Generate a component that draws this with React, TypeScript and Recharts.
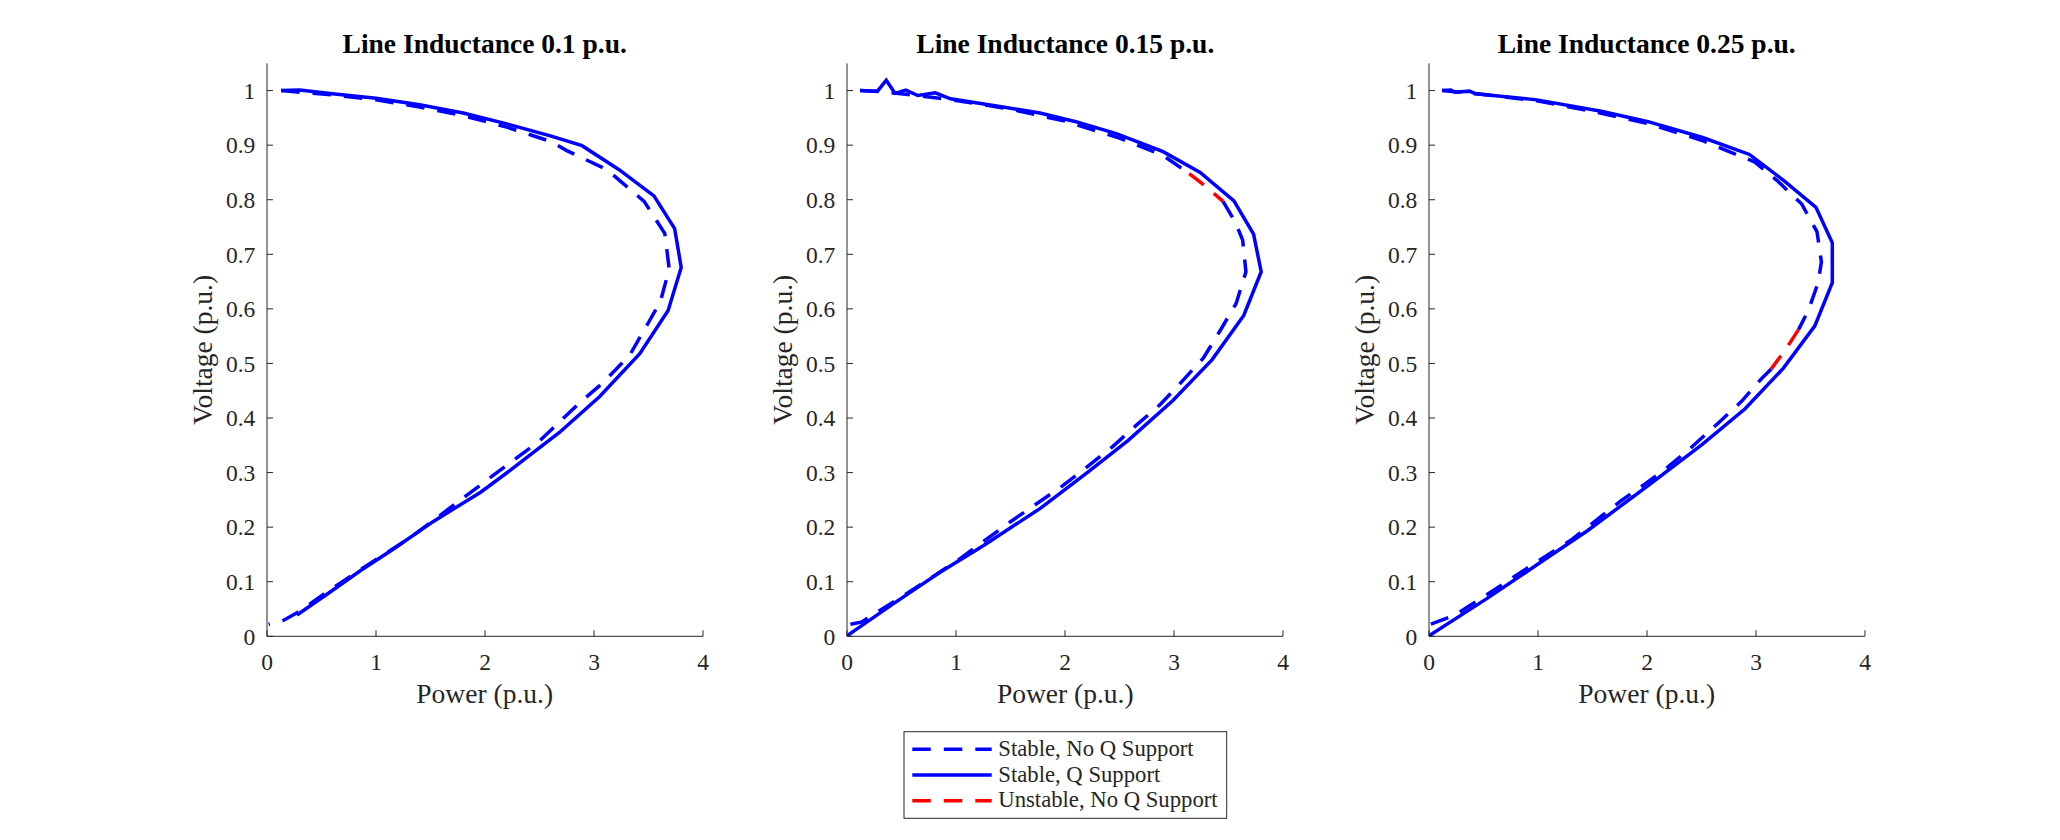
import { Line, LineChart, XAxis, YAxis } from 'recharts';

type Pt = { p: number; v: number };

const TITLES = ['Line Inductance 0.1 p.u.', 'Line Inductance 0.15 p.u.', 'Line Inductance 0.25 p.u.'];
const X_LABEL = 'Power (p.u.)';
const Y_LABEL = 'Voltage (p.u.)';
const X_TICKS = [0, 1, 2, 3, 4];
const Y_TICKS = [0, 0.1, 0.2, 0.3, 0.4, 0.5, 0.6, 0.7, 0.8, 0.9, 1];

// line inductance 0.1 p.u.
const L1_NOQ: Pt[] = [
  { p: 0.13, v: 1.0 }, { p: 0.6, v: 0.992 }, { p: 1.0, v: 0.983 }, { p: 1.4, v: 0.97 }, { p: 1.8, v: 0.954 },
  { p: 2.2, v: 0.933 }, { p: 2.6, v: 0.907 }, { p: 2.75, v: 0.89 }, { p: 3.12, v: 0.855 }, { p: 3.46, v: 0.797 },
  { p: 3.65, v: 0.738 }, { p: 3.69, v: 0.673 }, { p: 3.61, v: 0.614 }, { p: 3.5, v: 0.575 }, { p: 3.33, v: 0.516 },
  { p: 3.09, v: 0.466 }, { p: 2.87, v: 0.428 }, { p: 2.5, v: 0.358 }, { p: 2.23, v: 0.318 }, { p: 1.77, v: 0.249 },
  { p: 1.31, v: 0.18 }, { p: 0.856, v: 0.122 }, { p: 0.55, v: 0.081 }, { p: 0.275, v: 0.043 }, { p: 0.15, v: 0.029 },
  { p: 0.015, v: 0.022 },
];
const L1_Q: Pt[] = [
  { p: 0.13, v: 1.0 }, { p: 0.3, v: 1.001 }, { p: 0.6, v: 0.994 }, { p: 1.0, v: 0.986 }, { p: 1.4, v: 0.974 },
  { p: 1.8, v: 0.959 }, { p: 2.2, v: 0.939 }, { p: 2.6, v: 0.917 }, { p: 2.89, v: 0.899 }, { p: 3.23, v: 0.855 },
  { p: 3.55, v: 0.807 }, { p: 3.74, v: 0.747 }, { p: 3.8, v: 0.676 }, { p: 3.68, v: 0.597 }, { p: 3.42, v: 0.518 },
  { p: 3.05, v: 0.439 }, { p: 2.68, v: 0.373 }, { p: 2.23, v: 0.304 }, { p: 1.96, v: 0.264 }, { p: 1.53, v: 0.211 },
  { p: 1.16, v: 0.16 }, { p: 0.856, v: 0.12 }, { p: 0.55, v: 0.077 }, { p: 0.275, v: 0.039 },
];

// line inductance 0.15 p.u.
const L2_NOQ_UPPER: Pt[] = [
  { p: 0.12, v: 1.0 }, { p: 0.3, v: 0.998 }, { p: 0.6, v: 0.992 }, { p: 1.0, v: 0.982 }, { p: 1.5, v: 0.966 },
  { p: 2.0, v: 0.944 }, { p: 2.5, v: 0.913 }, { p: 2.9, v: 0.881 }, { p: 3.14, v: 0.848 },
];
const L2_UNSTABLE: Pt[] = [{ p: 3.14, v: 0.848 }, { p: 3.3, v: 0.823 }, { p: 3.45, v: 0.797 }];
const L2_NOQ_LOWER: Pt[] = [
  { p: 3.45, v: 0.797 }, { p: 3.56, v: 0.76 }, { p: 3.63, v: 0.726 }, { p: 3.66, v: 0.668 }, { p: 3.57, v: 0.61 },
  { p: 3.42, v: 0.559 }, { p: 3.27, v: 0.51 }, { p: 3.05, v: 0.462 }, { p: 2.87, v: 0.424 }, { p: 2.65, v: 0.386 },
  { p: 2.44, v: 0.348 }, { p: 2.2, v: 0.31 }, { p: 1.98, v: 0.276 }, { p: 1.5, v: 0.21 }, { p: 1.0, v: 0.137 },
  { p: 0.5, v: 0.072 }, { p: 0.13, v: 0.026 }, { p: 0, v: 0.021 },
];
const L2_Q: Pt[] = [
  { p: 0.12, v: 1.0 }, { p: 0.28, v: 0.999 }, { p: 0.36, v: 1.019 }, { p: 0.44, v: 0.995 }, { p: 0.54, v: 1.001 },
  { p: 0.65, v: 0.991 }, { p: 0.81, v: 0.996 }, { p: 0.95, v: 0.985 }, { p: 1.46, v: 0.969 }, { p: 1.77, v: 0.959 },
  { p: 2.1, v: 0.943 }, { p: 2.47, v: 0.921 }, { p: 2.9, v: 0.888 }, { p: 3.24, v: 0.85 }, { p: 3.55, v: 0.798 },
  { p: 3.73, v: 0.737 }, { p: 3.8, v: 0.668 }, { p: 3.64, v: 0.588 }, { p: 3.35, v: 0.507 }, { p: 2.99, v: 0.432 },
  { p: 2.58, v: 0.359 }, { p: 2.21, v: 0.301 }, { p: 1.77, v: 0.234 }, { p: 1.25, v: 0.166 }, { p: 0.85, v: 0.117 },
  { p: 0.42, v: 0.059 }, { p: 0, v: 0.001 },
];

// line inductance 0.25 p.u.
const L3_NOQ_UPPER: Pt[] = [
  { p: 0.12, v: 1.0 }, { p: 0.5, v: 0.993 }, { p: 1.0, v: 0.981 }, { p: 1.5, v: 0.962 }, { p: 2.0, v: 0.94 },
  { p: 2.5, v: 0.909 }, { p: 2.99, v: 0.869 }, { p: 3.2, v: 0.834 }, { p: 3.42, v: 0.792 }, { p: 3.56, v: 0.741 },
  { p: 3.6, v: 0.686 }, { p: 3.57, v: 0.648 }, { p: 3.48, v: 0.597 }, { p: 3.39, v: 0.562 },
];
const L3_UNSTABLE: Pt[] = [{ p: 3.39, v: 0.562 }, { p: 3.27, v: 0.525 }, { p: 3.14, v: 0.49 }];
const L3_NOQ_LOWER: Pt[] = [
  { p: 3.14, v: 0.49 }, { p: 3.05, v: 0.472 }, { p: 2.87, v: 0.431 }, { p: 2.65, v: 0.39 }, { p: 2.4, v: 0.345 },
  { p: 2.19, v: 0.31 }, { p: 1.98, v: 0.279 }, { p: 1.76, v: 0.248 }, { p: 1.3, v: 0.176 }, { p: 0.84, v: 0.117 },
  { p: 0.53, v: 0.076 }, { p: 0.23, v: 0.038 }, { p: 0, v: 0.021 },
];
const L3_Q: Pt[] = [
  { p: 0.12, v: 1.0 }, { p: 0.2, v: 1.001 }, { p: 0.24, v: 0.997 }, { p: 0.37, v: 0.999 }, { p: 0.43, v: 0.994 },
  { p: 0.99, v: 0.983 }, { p: 1.58, v: 0.962 }, { p: 2.01, v: 0.943 }, { p: 2.51, v: 0.914 }, { p: 2.94, v: 0.883 },
  { p: 3.25, v: 0.836 }, { p: 3.55, v: 0.786 }, { p: 3.7, v: 0.721 }, { p: 3.7, v: 0.648 }, { p: 3.54, v: 0.569 },
  { p: 3.25, v: 0.491 }, { p: 2.9, v: 0.417 }, { p: 2.51, v: 0.352 }, { p: 2.01, v: 0.276 }, { p: 1.45, v: 0.193 },
  { p: 0.99, v: 0.131 }, { p: 0.53, v: 0.069 }, { p: 0, v: 0.001 },
];

const BLUE = '#0000ff';
const RED = '#ff0000';
const INK = '#262626';
const DASH = '18.5 13';
const FONT = '"Liberation Serif", "Times New Roman", serif';

const STYLE = {
  noq: { stroke: BLUE, dash: DASH },
  q: { stroke: BLUE, dash: undefined },
  unstable: { stroke: RED, dash: DASH },
};

const LEGEND = [
  { label: 'Stable, No Q Support', kind: 'noq' as const },
  { label: 'Stable, Q Support', kind: 'q' as const },
  { label: 'Unstable, No Q Support', kind: 'unstable' as const },
];

const PANELS = [
  { title: TITLES[0], series: [{ kind: 'noq' as const, data: L1_NOQ }, { kind: 'q' as const, data: L1_Q }] },
  {
    title: TITLES[1],
    series: [
      { kind: 'noq' as const, data: L2_NOQ_UPPER },
      { kind: 'noq' as const, data: L2_NOQ_LOWER },
      { kind: 'q' as const, data: L2_Q },
      { kind: 'unstable' as const, data: L2_UNSTABLE },
    ],
  },
  {
    title: TITLES[2],
    series: [
      { kind: 'noq' as const, data: L3_NOQ_UPPER },
      { kind: 'noq' as const, data: L3_NOQ_LOWER },
      { kind: 'q' as const, data: L3_Q },
      { kind: 'unstable' as const, data: L3_UNSTABLE },
    ],
  },
];

// layout (px)
const AXIS_X = [266.7, 847.3, 1428.7];
const PLOT_W = 436;
const PLOT_TOP = 63.3;
const PLOT_BOTTOM = 636.3;
const Y_AXIS_W = 100;
const CHART_W = Y_AXIS_W + PLOT_W + 30;
const CHART_H = 720;
const TICK_FONT = 23.5;
const LABEL_FONT = 27.5;

function Panel({ panel, left }: { panel: (typeof PANELS)[number]; left: number }) {
  return (
    <div style={{ position: 'absolute', left: left - Y_AXIS_W, top: 0 }}>
      <LineChart width={CHART_W} height={CHART_H} margin={{ top: PLOT_TOP, right: 30, bottom: 0, left: 0 }}>
        <XAxis
          type="number"
          dataKey="p"
          domain={[0, 4]}
          ticks={X_TICKS}
          interval={0}
          allowDataOverflow
          height={CHART_H - PLOT_BOTTOM}
          tickSize={-6}
          tickMargin={23}
          axisLine={{ stroke: INK, strokeWidth: 1 }}
          tickLine={{ stroke: INK, strokeWidth: 1 }}
          tick={{ fill: INK, fontSize: TICK_FONT, fontFamily: FONT }}
        />
        <YAxis
          type="number"
          dataKey="v"
          domain={[0, 1.05]}
          ticks={Y_TICKS}
          interval={0}
          allowDataOverflow
          width={Y_AXIS_W}
          tickSize={-6}
          tickMargin={17.7}
          axisLine={{ stroke: INK, strokeWidth: 1 }}
          tickLine={{ stroke: INK, strokeWidth: 1 }}
          tick={{ fill: INK, fontSize: TICK_FONT, fontFamily: FONT }}
        />
        {panel.series.map((s, i) => (
          <Line
            key={i}
            data={s.data}
            dataKey="v"
            type="linear"
            stroke={STYLE[s.kind].stroke}
            strokeDasharray={STYLE[s.kind].dash}
            strokeWidth={3.5}
            dot={false}
            activeDot={false}
            isAnimationActive={false}
          />
        ))}
      </LineChart>
    </div>
  );
}

export default function App() {
  const legendX = 904;
  const legendY = 731.7;
  const rowGap = 25.7;
  return (
    <div style={{ position: 'absolute', left: 0, top: 0, width: 2060, height: 840, background: '#fff', overflow: 'hidden' }}>
      {PANELS.map((panel, i) => (
        <Panel key={i} panel={panel} left={AXIS_X[i]} />
      ))}
      <svg width={2060} height={840} style={{ position: 'absolute', left: 0, top: 0, pointerEvents: 'none' }}>
        {PANELS.map((panel, i) => {
          const cx = AXIS_X[i] + PLOT_W / 2;
          const cy = (PLOT_TOP + PLOT_BOTTOM) / 2;
          const yl = AXIS_X[i] - 55.1;
          return (
            <g key={i} fontFamily={FONT}>
              <text x={cx} y={53.3} textAnchor="middle" fontSize={LABEL_FONT} fontWeight="bold" fill="#000">
                {panel.title}
              </text>
              <text x={cx} y={703.3} textAnchor="middle" fontSize={LABEL_FONT} fill={INK}>
                {X_LABEL}
              </text>
              <text
                x={yl}
                y={cy}
                textAnchor="middle"
                fontSize={LABEL_FONT}
                fill={INK}
                transform={`rotate(-90 ${yl} ${cy})`}
              >
                {Y_LABEL}
              </text>
            </g>
          );
        })}
        <g fontFamily={FONT}>
          <rect x={legendX} y={legendY} width={322.7} height={86.6} fill="#fff" stroke={INK} strokeWidth={1} />
          {LEGEND.map((e, i) => {
            const y = legendY + 17.6 + i * rowGap;
            return (
              <g key={e.label}>
                <line
                  x1={912.3}
                  x2={991.7}
                  y1={y}
                  y2={y}
                  stroke={STYLE[e.kind].stroke}
                  strokeWidth={3.5}
                  strokeDasharray={STYLE[e.kind].dash}
                />
                <text x={998.3} y={y + 6.7} fontSize={22.7} fill={INK}>
                  {e.label}
                </text>
              </g>
            );
          })}
        </g>
      </svg>
    </div>
  );
}
